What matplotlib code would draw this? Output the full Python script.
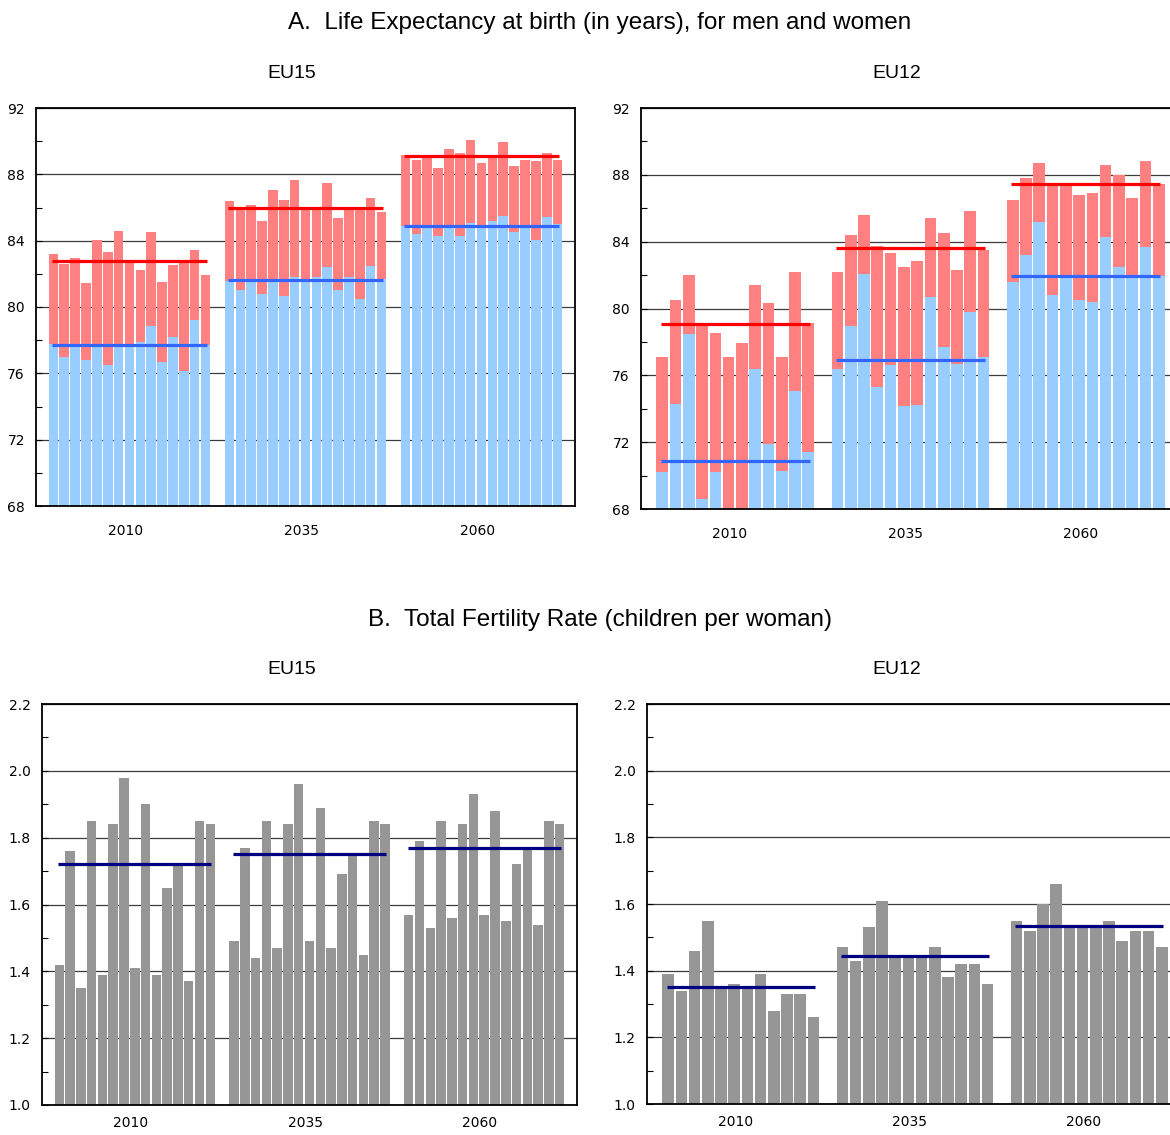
import matplotlib
matplotlib.use("Agg")
import matplotlib.pyplot as plt
import numpy as np

# theme colors
class Colors:
    MEN = "#99ccff"
    WOMEN = "#ff8080"
    MEN_AVG = "#3366ff"
    WOMEN_AVG = "#ff0000"
    TFR = "#969696"
    TFR_AVG = "#000080"
    GRID = "#3c3c3c"

years = ["2010", "2035", "2060"]

# life expectancy, EU15 (15 countries per year)
eu15_men_2010 = [77.75, 76.97, 77.6, 76.81, 77.7, 76.49, 77.7, 77.7, 77.87, 78.84, 76.67, 78.17, 76.13, 79.2, 77.69]
eu15_women_2010 = [83.17, 82.57, 82.93, 81.43, 84.07, 83.29, 84.56, 82.8, 82.21, 84.5, 81.49, 82.51, 82.75, 83.41, 81.91]
eu15_men_2035 = [81.55, 81.0, 81.6, 80.76, 81.6, 80.64, 81.79, 81.6, 81.79, 82.39, 81.0, 81.79, 80.46, 82.45, 81.67]
eu15_women_2035 = [86.42, 86.0, 86.18, 85.16, 87.08, 86.48, 87.63, 86.0, 86.0, 87.5, 85.34, 86.0, 86.0, 86.6, 85.7]
eu15_men_2060 = [84.88, 84.38, 84.88, 84.26, 84.9, 84.26, 85.04, 84.88, 85.16, 85.46, 84.5, 84.88, 84.07, 85.4, 84.98]
eu15_women_2060 = [89.19, 88.89, 89.01, 88.41, 89.55, 89.31, 90.1, 88.71, 89.07, 89.97, 88.53, 88.89, 88.83, 89.31, 88.89]
eu15_men_avg = [77.7, 81.6, 84.9]
eu15_women_avg = [82.8, 86.0, 89.1]

# life expectancy, EU12 (12 countries per year)
eu12_men_2010 = [70.22, 74.27, 78.46, 68.58, 70.22, 67.5, 67.6, 76.37, 71.87, 70.26, 75.05, 71.39]
eu12_women_2010 = [77.09, 80.5, 82.0, 79.06, 78.52, 77.09, 77.92, 81.4, 80.32, 77.09, 82.18, 79.12]
eu12_men_2035 = [76.37, 78.94, 82.06, 75.29, 76.61, 74.15, 74.21, 80.68, 77.68, 76.67, 79.78, 77.09]
eu12_women_2035 = [82.18, 84.39, 85.59, 83.73, 83.32, 82.48, 82.84, 85.41, 84.51, 82.3, 85.83, 83.5]
eu12_men_2060 = [81.58, 83.2, 85.17, 80.8, 81.94, 80.5, 80.38, 84.27, 82.48, 81.94, 83.67, 81.94]
eu12_women_2060 = [86.49, 87.81, 88.71, 87.45, 87.39, 86.79, 86.91, 88.59, 87.99, 86.61, 88.83, 87.45]
eu12_men_avg = [70.9, 76.9, 81.95]
eu12_women_avg = [79.1, 83.6, 87.45]

# total fertility rate
eu15_tfr_2010 = [1.42, 1.76, 1.35, 1.85, 1.39, 1.84, 1.98, 1.41, 1.90, 1.39, 1.65, 1.72, 1.37, 1.85, 1.84]
eu15_tfr_2035 = [1.49, 1.77, 1.44, 1.85, 1.47, 1.84, 1.96, 1.49, 1.89, 1.47, 1.69, 1.75, 1.45, 1.85, 1.84]
eu15_tfr_2060 = [1.57, 1.79, 1.53, 1.85, 1.56, 1.84, 1.93, 1.57, 1.88, 1.55, 1.72, 1.77, 1.54, 1.85, 1.84]
eu15_tfr_avg = [1.72, 1.75, 1.77]
eu12_tfr_2010 = [1.39, 1.34, 1.46, 1.55, 1.35, 1.36, 1.35, 1.39, 1.28, 1.33, 1.33, 1.26]
eu12_tfr_2035 = [1.47, 1.43, 1.53, 1.61, 1.44, 1.445, 1.445, 1.47, 1.38, 1.42, 1.42, 1.36]
eu12_tfr_2060 = [1.55, 1.52, 1.60, 1.66, 1.535, 1.535, 1.535, 1.55, 1.49, 1.52, 1.52, 1.47]
eu12_tfr_avg = [1.35, 1.445, 1.535]

GAP = 1.2      # extra slots between year groups
MARGIN = 1.1   # empty slots at each side
BAR_W = 0.88

title_font = ["Liberation Sans Narrow", "Liberation Sans", "DejaVu Sans"]
plt.rcParams["font.family"] = ["DejaVu Sans"]

W, H = 1170, 1135
fig = plt.figure(figsize=(W / 100, H / 100), dpi=100)

# axes placed in pixels (left, top, right, bottom)
def px_axes(l, t, r, b):
    return fig.add_axes([l / W, 1 - b / H, (r - l) / W, (b - t) / H])

def positions(n):
    return [g * (n + GAP) + np.arange(n) for g in range(3)]

def style_axes(ax, n, ylim, major, minor, fmt, xpad):
    ax.set_xlim(-0.5 - MARGIN, 2 * (n + GAP) + n - 0.5 + MARGIN)
    ax.set_ylim(*ylim)
    ax.set_yticks(np.arange(ylim[0], ylim[1] + 1e-9, major))
    ax.set_yticks(np.arange(ylim[0] + minor, ylim[1], major), minor=True)
    ax.yaxis.set_major_formatter(matplotlib.ticker.FormatStrFormatter(fmt))
    ax.grid(axis="y", which="major", color=Colors.GRID, linewidth=0.9)
    ax.set_axisbelow(True)
    # year labels sit a little left of the group centre
    ax.set_xticks([g * (n + GAP) + (n - 1) / 2 - 0.4 for g in range(3)])
    ax.set_xticklabels(years)
    ax.tick_params(axis="x", length=0, pad=xpad, labelsize=10)
    ax.tick_params(axis="y", which="both", direction="in", length=4,
                   width=0.8, labelsize=10, pad=8)
    for s in ax.spines.values():
        s.set_linewidth(1.3)
        s.set_color("black")

def le_panel(ax, men, women, men_avg, women_avg):
    n = len(men[0])
    for x, m, w, ma, wa in zip(positions(n), men, women, men_avg, women_avg):
        m = np.array(m)
        w = np.array(w)
        ax.bar(x, m - 60, bottom=60, width=BAR_W, color=Colors.MEN, zorder=2)
        ax.bar(x, w - m, bottom=m, width=BAR_W, color=Colors.WOMEN, zorder=2)
        ax.hlines(wa, x[0] - 0.1, x[-1] + 0.1, color=Colors.WOMEN_AVG, linewidth=2.3, zorder=3)
        ax.hlines(ma, x[0] - 0.1, x[-1] + 0.1, color=Colors.MEN_AVG, linewidth=2.3, zorder=3)
    style_axes(ax, n, (68, 92), 4, 2, "%d", 13)

def tfr_panel(ax, tfr, tfr_avg):
    n = len(tfr[0])
    for x, v, a in zip(positions(n), tfr, tfr_avg):
        ax.bar(x, np.array(v) - 0.5, bottom=0.5, width=BAR_W, color=Colors.TFR, zorder=2)
        ax.hlines(a, x[0] - 0.1, x[-1] + 0.1, color=Colors.TFR_AVG, linewidth=2.3, zorder=3)
    style_axes(ax, n, (1.0, 2.2), 0.2, 0.1, "%.1f", 8)

# A. life expectancy
ax = px_axes(36, 108, 575, 506)
le_panel(ax, [eu15_men_2010, eu15_men_2035, eu15_men_2060],
         [eu15_women_2010, eu15_women_2035, eu15_women_2060],
         eu15_men_avg, eu15_women_avg)
ax = px_axes(641, 108, 1180, 509)
le_panel(ax, [eu12_men_2010, eu12_men_2035, eu12_men_2060],
         [eu12_women_2010, eu12_women_2035, eu12_women_2060],
         eu12_men_avg, eu12_women_avg)

# B. fertility
ax = px_axes(42, 704, 577, 1105)
tfr_panel(ax, [eu15_tfr_2010, eu15_tfr_2035, eu15_tfr_2060], eu15_tfr_avg)
ax = px_axes(647, 704, 1183, 1104)
tfr_panel(ax, [eu12_tfr_2010, eu12_tfr_2035, eu12_tfr_2060], eu12_tfr_avg)

# titles
def fig_text(x, y, s, size):
    fig.text(x / W, 1 - y / H, s, ha="center", va="center", fontsize=size, family=title_font)

fig_text(600, 23, "A.  Life Expectancy at birth (in years), for men and women", 17.5)
fig_text(292, 74, "EU15", 14)
fig_text(897, 74, "EU12", 14)
fig_text(600, 620, "B.  Total Fertility Rate (children per woman)", 17.5)
fig_text(292, 670, "EU15", 14)
fig_text(897, 670, "EU12", 14)

fig.savefig("out.png", dpi=100)
